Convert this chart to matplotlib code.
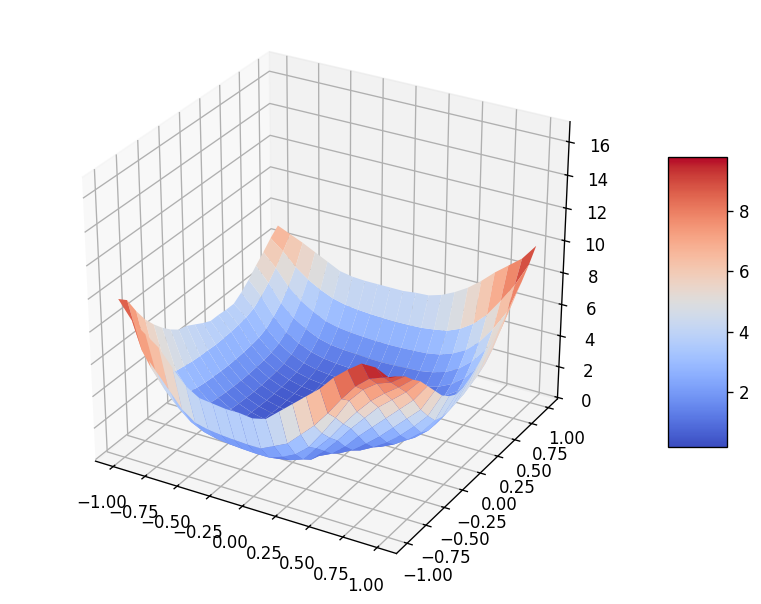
import numpy as np
import matplotlib
matplotlib.use('Agg')
import matplotlib.pyplot as plt
from matplotlib import cm

# 网格坐标
x_vals = np.linspace(-1, 1, 21)
y_vals = np.linspace(-1, 1, 21)

# 曲面高度，每行对应一个 y
z_rows = [
    [9.8, 8.7, 8.1, 7.5, 6.5, 5.6, 5.1, 5.0, 4.9, 4.9, 4.8, 5.0, 5.7, 6.4, 7.1, 7.8, 8.7, 9.4, 10.0, 10.0, 9.6],
    [9.35, 6.5, 5.5, 4.5, 3.5, 2.9, 2.7, 2.6, 2.54, 2.5, 2.5, 2.9, 3.3, 4.1, 4.9, 5.9, 7.0, 8.0, 8.7, 9.0, 9.3],
    [8.3, 5.0, 3.9, 3.0, 2.3, 1.9, 1.7, 1.6, 1.54, 1.5, 1.5, 1.8, 2.2, 2.9, 4.0, 5.2, 6.5, 7.4, 8.0, 8.3, 8.9],
    [7.4, 4.1, 3.0, 2.25, 1.75, 1.4, 1.2, 1.1, 1.04, 1.0, 1.0, 1.15, 1.45, 2.4, 3.3, 4.4, 5.4, 6.3, 7.0, 7.6, 8.3],
    [6.7, 3.8, 2.7, 1.95, 1.43, 1.1, 0.9, 0.8, 0.74, 0.7, 0.7, 0.8, 1.0, 1.8, 2.7, 3.7, 4.6, 5.5, 6.2, 6.9, 7.8],
    [6.1, 3.6, 2.5, 1.73, 1.23, 0.9, 0.7, 0.6, 0.54, 0.5, 0.48, 0.55, 0.8, 1.2, 1.9, 2.8, 3.6, 4.4, 5.2, 6.0, 7.1],
    [5.6, 3.5, 2.36, 1.61, 1.11, 0.78, 0.58, 0.48, 0.42, 0.38, 0.36, 0.4, 0.55, 0.8, 1.25, 1.9, 2.6, 3.4, 4.2, 5.0, 6.4],
    [5.2, 3.4, 2.28, 1.53, 1.03, 0.7, 0.5, 0.4, 0.34, 0.3, 0.28, 0.3, 0.4, 0.55, 0.8, 1.25, 1.8, 2.5, 3.3, 4.2, 5.7],
    [5.05, 3.35, 2.23, 1.48, 0.98, 0.65, 0.45, 0.35, 0.29, 0.25, 0.23, 0.25, 0.3, 0.4, 0.55, 0.85, 1.25, 1.8, 2.5, 3.5, 5.25],
    [4.75, 3.32, 2.2, 1.45, 0.95, 0.62, 0.42, 0.32, 0.26, 0.22, 0.2, 0.22, 0.26, 0.32, 0.42, 0.65, 1.0, 1.5, 2.2, 3.3, 4.95],
    [4.45, 3.28, 2.18, 1.43, 0.93, 0.6, 0.4, 0.3, 0.24, 0.2, 0.18, 0.2, 0.24, 0.3, 0.4, 0.6, 0.93, 1.43, 2.18, 3.3, 5.0],
    [4.2, 3.3, 2.2, 1.45, 0.95, 0.62, 0.42, 0.32, 0.26, 0.22, 0.2, 0.22, 0.26, 0.32, 0.42, 0.62, 0.95, 1.45, 2.2, 3.4, 5.25],
    [4.2, 3.34, 2.24, 1.49, 0.99, 0.66, 0.46, 0.36, 0.3, 0.26, 0.24, 0.26, 0.3, 0.36, 0.46, 0.66, 1.0, 1.5, 2.3, 3.5, 5.6],
    [4.15, 3.4, 2.3, 1.55, 1.05, 0.72, 0.52, 0.42, 0.36, 0.32, 0.3, 0.32, 0.36, 0.42, 0.52, 0.75, 1.1, 1.6, 2.4, 3.7, 6.0],
    [4.15, 3.5, 2.4, 1.65, 1.15, 0.82, 0.62, 0.52, 0.46, 0.42, 0.4, 0.42, 0.46, 0.52, 0.62, 0.85, 1.2, 1.75, 2.6, 3.9, 6.4],
    [4.5, 3.7, 2.6, 1.85, 1.35, 1.02, 0.82, 0.72, 0.66, 0.62, 0.6, 0.62, 0.66, 0.72, 0.82, 1.05, 1.45, 2.0, 2.9, 4.2, 6.75],
    [4.95, 4.1, 3.0, 2.2, 1.7, 1.35, 1.15, 1.05, 1.0, 0.95, 0.93, 0.95, 1.0, 1.05, 1.15, 1.4, 1.8, 2.45, 3.4, 4.7, 7.2],
    [5.5, 4.6, 3.5, 2.75, 2.25, 1.85, 1.65, 1.55, 1.5, 1.45, 1.43, 1.45, 1.5, 1.55, 1.7, 1.95, 2.4, 3.1, 4.1, 5.4, 7.75],
    [6.0, 5.2, 4.2, 3.5, 3.0, 2.6, 2.4, 2.3, 2.24, 2.2, 2.18, 2.2, 2.24, 2.3, 2.45, 2.75, 3.2, 3.95, 5.0, 6.3, 8.4],
    [6.55, 5.9, 5.1, 4.5, 4.05, 3.7, 3.5, 3.4, 3.34, 3.3, 3.28, 3.3, 3.34, 3.45, 3.6, 3.95, 4.5, 5.3, 6.4, 7.6, 9.1],
    [7.0, 6.65, 6.3, 5.9, 5.5, 5.1, 4.95, 4.9, 4.9, 4.9, 4.9, 5.0, 5.05, 5.3, 5.7, 6.2, 6.85, 7.6, 8.25, 8.9, 9.9],
]

z_ticks = [0, 2, 4, 6, 8, 10, 12, 14, 16]
xy_ticks = [-1.00, -0.75, -0.50, -0.25, 0.00, 0.25, 0.50, 0.75, 1.00]
cbar_ticks = [2, 4, 6, 8]

X, Y = np.meshgrid(x_vals, y_vals)
Z = np.array(z_rows)

fig = plt.figure(figsize=(761 / 120, 604 / 120), dpi=120)
rect = [30.5 / 761, 31.5 / 604, 584 / 761, 544 / 604]
ax = fig.add_axes(rect, projection='3d')
ax.set_box_aspect((1, 1, 1))
# 老版本的 3D 坐标系会随 axes 拉伸，这里不强制正方形
ax.apply_aspect = lambda position=None: ax._set_position(ax.get_position(original=True), 'active')

surf = ax.plot_surface(X, Y, Z, cmap=cm.coolwarm, linewidth=0, antialiased=True, vmin=0.18, vmax=9.79)

ax.set_xlim(-1.14, 1.14)
ax.set_ylim(-1.14, 1.14)
ax.set_zlim(-0.1, 17.2)
ax.set_xticks(xy_ticks)
ax.set_yticks(xy_ticks)
ax.set_zticks(z_ticks)

# 色条位置手动放
cax = fig.add_axes([668 / 761, 1 - 447 / 604, 59 / 761, 290 / 604])
cbar = fig.colorbar(surf, cax=cax)
cbar.set_ticks(cbar_ticks)

fig.savefig('out.png', dpi=120)
